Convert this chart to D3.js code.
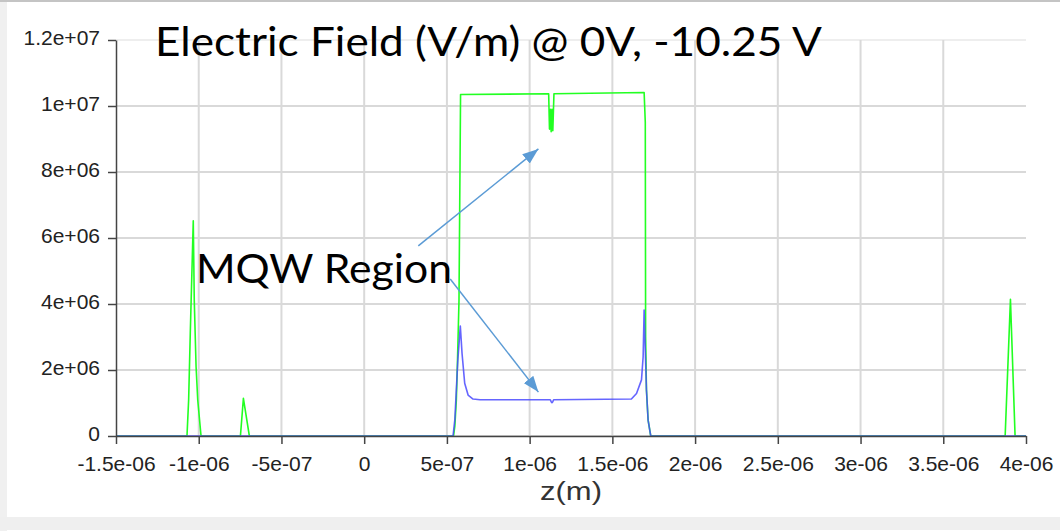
<!DOCTYPE html>
<html>
<head>
<meta charset="utf-8">
<script src="https://cdn.jsdelivr.net/npm/d3@7"></script>
<style>
  html, body { margin: 0; padding: 0; background: #fff; }
  svg { display: block; }
</style>
</head>
<body>
<svg id="chart" width="1060" height="531"></svg>
<script>
// Electric field profile along z, two bias conditions.
// z positions are written in micrometres, field values in V/m.

// Bias 0 V (green)
const greenZum = [-1.5, -1.071, -1.061, -1.051, -1.033, -1.027, -1.016, -1.006, -0.986,
  -0.748, -0.730, -0.694,
  0.540, 0.548, 0.557, 0.563, 0.573, 0.5825,
  1.115, 1.120, 1.125, 1.130, 1.135, 1.140, 1.147,
  1.692, 1.699, 1.701, 1.706, 1.716, 1.732,
  3.874, 3.906, 3.934, 4.0];
const greenE = [0, 0, 1.09e6, 3.12e6, 6.52e6, 4.12e6, 2.1e6, 1.09e6, 0,
  0, 1.14e6, 0,
  0, 0.3e6, 1.09e6, 2.1e6, 4.1e6, 1.035e7,
  1.037e7, 9.3e6, 9.9e6, 9.22e6, 9.9e6, 9.25e6, 1.037e7,
  1.041e7, 9.5e6, 3.0e6, 1.4e6, 0.48e6, 0,
  0, 4.14e6, 0, 0];

// Bias -10.25 V (blue)
const blueZum = [-1.5, 0.537, 0.548, 0.556, 0.566, 0.581,
  0.5915, 0.6075, 0.628, 0.658, 0.70,
  1.125, 1.130, 1.135, 1.140, 1.145,
  1.615, 1.646, 1.676, 1.686, 1.692,
  1.699, 1.706, 1.716, 1.732, 4.0];
const blueE = [0, 0, 0.5e6, 1.3e6, 2.3e6, 3.33e6,
  2.5e6, 1.6e6, 1.24e6, 1.12e6, 1.1e6,
  1.1e6, 1.04e6, 1.01e6, 1.04e6, 1.1e6,
  1.12e6, 1.29e6, 1.7e6, 2.4e6, 3.82e6,
  2.6e6, 1.4e6, 0.48e6, 0, 0];

// Axis ticks and their labels
const xTicks = [-1.5e-6, -1e-6, -5e-7, 0, 5e-7, 1e-6, 1.5e-6, 2e-6, 2.5e-6, 3e-6, 3.5e-6, 4e-6];
const xTickLabels = ["-1.5e-06", "-1e-06", "-5e-07", "0", "5e-07", "1e-06", "1.5e-06",
  "2e-06", "2.5e-06", "3e-06", "3.5e-06", "4e-06"];
const yTicks = [0, 2e6, 4e6, 6e6, 8e6, 1e7, 1.2e7];
const yTickLabels = ["0", "2e+06", "4e+06", "6e+06", "8e+06", "1e+07", "1.2e+07"];

const titleText = "Electric Field (V/m) @ 0V, -10.25 V";
const xTitle = "z(m)";
const regionLabel = "MQW Region";
// annotation arrows: [start z (m), start E, tip z (m), tip E]
const arrows = [
  [0.327e-6, 5.76e6, 1.053e-6, 8.7e6],
  [0.520e-6, 4.76e6, 1.053e-6, 1.33e6]
];

const greenData = greenZum.map((z, i) => ({ z: z * 1e-6, e: greenE[i] }));
const blueData = blueZum.map((z, i) => ({ z: z * 1e-6, e: blueE[i] }));

const svg = d3.select("#chart");
const W = 1060, H = 531;
const plot = { left: 116, right: 1026, top: 40, bottom: 436 };

// page frame
svg.append("rect").attr("x", 0).attr("y", 0).attr("width", W).attr("height", H).attr("fill", "#fff");
svg.append("rect").attr("x", 0).attr("y", 0).attr("width", W).attr("height", 2).attr("fill", "#c4c4c4");
svg.append("rect").attr("x", 0).attr("y", 2).attr("width", 7).attr("height", H - 2).attr("fill", "#f0f0f0");
svg.append("rect").attr("x", 0).attr("y", 517).attr("width", W).attr("height", 13).attr("fill", "#efefef");

const x = d3.scaleLinear().domain([-1.5e-6, 4e-6]).range([plot.left, plot.right]);
const y = d3.scaleLinear().domain([0, 1.2e7]).range([plot.bottom, plot.top]);

// grid
const grid = svg.append("g").attr("stroke", "#d9d9d9").attr("stroke-width", 2);
grid.selectAll("line.h").data(yTicks).join("line")
  .attr("x1", plot.left).attr("x2", plot.right)
  .attr("y1", d => y(d)).attr("y2", d => y(d))
  .attr("stroke", d => d === 1.2e7 ? "#eeeeee" : "#d9d9d9");
grid.selectAll("line.v").data(xTicks.slice(1, -1)).join("line")
  .attr("y1", plot.top).attr("y2", plot.bottom)
  .attr("x1", d => x(d)).attr("x2", d => x(d));

// series
const line = d3.line().x(d => x(d.z)).y(d => y(d.e));
svg.append("path").datum(greenData).attr("d", line)
  .attr("fill", "none").attr("stroke", "#22ff22").attr("stroke-width", 1.6)
  .attr("stroke-linejoin", "round");
svg.append("path").datum(blueData).attr("d", line)
  .attr("fill", "none").attr("stroke", "#4a4aff").attr("stroke-width", 1.6)
  .attr("stroke-opacity", 0.85).attr("stroke-linejoin", "round");

// axes
const tickFont = "'Liberation Sans', Arial, sans-serif";
const xAxis = d3.axisBottom(x).tickValues(xTicks)
  .tickFormat((d, i) => xTickLabels[i]).tickSize(8).tickSizeOuter(0).tickPadding(8);
const yAxis = d3.axisLeft(y).tickValues(yTicks)
  .tickFormat((d, i) => yTickLabels[i]).tickSize(8).tickSizeOuter(0).tickPadding(8);

const gx = svg.append("g").attr("transform", `translate(0,${plot.bottom})`).call(xAxis);
const gy = svg.append("g").attr("transform", `translate(${plot.left},0)`).call(yAxis);
[gx, gy].forEach(g => {
  g.select(".domain").attr("stroke", "#444").attr("stroke-width", 1.5);
  g.selectAll(".tick line").attr("stroke", "#444").attr("stroke-width", 1.5);
  g.selectAll(".tick text").attr("fill", "#222")
    .style("font-family", tickFont).style("font-size", "21px");
});
gx.selectAll(".tick text").attr("dy", "0.9em");
gy.selectAll(".tick text").attr("dy", "0.2em");

svg.append("text").attr("x", 571).attr("y", 500)
  .attr("text-anchor", "middle").attr("fill", "#333")
  .style("font-family", tickFont).style("font-size", "25px")
  .attr("textLength", 62).attr("lengthAdjust", "spacingAndGlyphs")
  .text(xTitle);

// annotations
const labelFont = "Lato, 'Open Sans', sans-serif";
svg.append("text").attr("x", 155).attr("y", 56)
  .attr("fill", "#000").style("font-family", labelFont).style("font-size", "41px")
  .attr("textLength", 667).attr("lengthAdjust", "spacingAndGlyphs")
  .text(titleText);
svg.append("text").attr("x", 196).attr("y", 283)
  .attr("fill", "#000").style("font-family", labelFont).style("font-size", "40px")
  .attr("textLength", 256).attr("lengthAdjust", "spacingAndGlyphs")
  .text(regionLabel);

svg.append("defs").append("marker")
  .attr("id", "head").attr("markerUnits", "userSpaceOnUse")
  .attr("viewBox", "0 0 16 12").attr("refX", 16).attr("refY", 6)
  .attr("markerWidth", 16).attr("markerHeight", 12).attr("orient", "auto")
  .append("path").attr("d", "M0,0 L16,6 L0,12 Z").attr("fill", "#5b9bd5");

svg.append("g").selectAll("line").data(arrows).join("line")
  .attr("x1", d => x(d[0])).attr("y1", d => y(d[1]))
  .attr("x2", d => x(d[2])).attr("y2", d => y(d[3]))
  .attr("stroke", "#5b9bd5").attr("stroke-width", 1.5)
  .attr("marker-end", "url(#head)");
</script>
</body>
</html>
